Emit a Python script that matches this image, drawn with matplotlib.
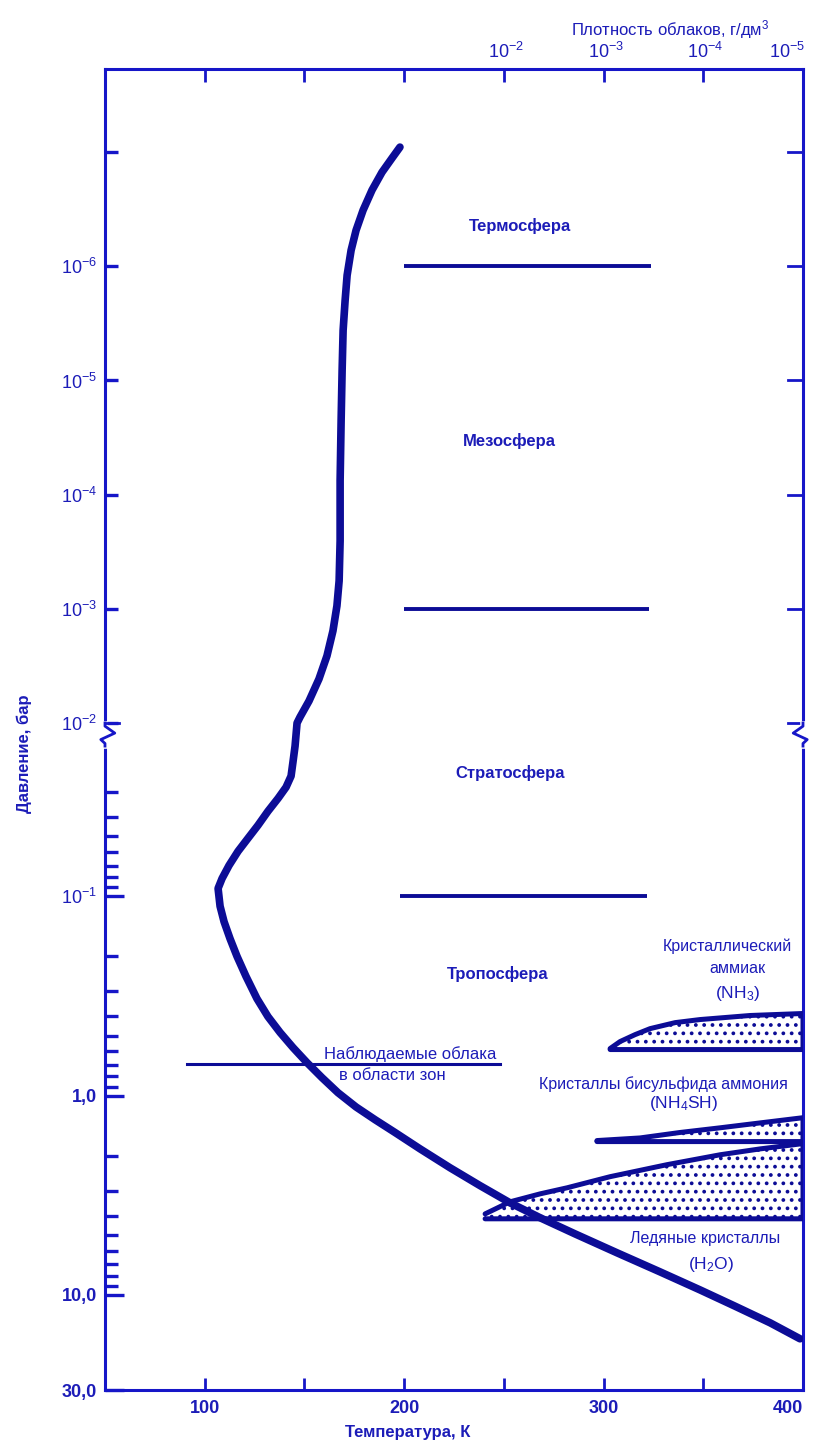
import numpy as np
import matplotlib
matplotlib.use("Agg")
import matplotlib.pyplot as plt
from matplotlib.ticker import FixedLocator, FixedFormatter

plt.rcParams['font.family'] = ['Liberation Sans', 'DejaVu Sans']
plt.rcParams['mathtext.default'] = 'regular'
plt.rcParams['hatch.linewidth'] = 1.5

# temperature profile, upper part (above the axis break) and lower part
temp_upper = [197.9, 193.9, 188.9, 183.9, 179.4, 175.9, 173.4, 171.4, 170.4, 169.4, 168.9,
              168.4, 167.9, 167.9, 167.4, 166.3, 164.3, 161.3, 157.3, 152.3, 147.8, 146.3]
pres_upper = [9.04e-8, 1.13e-7, 1.50e-7, 2.15e-7, 3.23e-7, 4.83e-7, 7.24e-7, 1.20e-6, 1.99e-6,
              3.64e-6, 8.17e-6, 2.24e-5, 7.54e-5, 2.53e-4, 5.68e-4, 9.41e-4, 1.56e-3, 2.58e-3,
              4.11e-3, 6.41e-3, 8.86e-3, 1.0e-2]
temp_lower = [145.3, 144.3, 143.3, 140.8, 136.8, 131.7, 126.7, 121.7, 116.7, 112.2, 108.7, 106.7,
              107.7, 109.7, 112.7, 116.2, 120.7, 126.2, 131.7, 137.8, 144.3, 151.3, 158.8, 166.8,
              175.9, 185.4, 195.4, 208.0, 223.0, 238.1, 253.1, 268.2, 285.7, 306.8, 328.3, 348.4,
              366.0, 383.5, 398.5]
pres_lower = [0.0176, 0.0210, 0.0249, 0.0283, 0.0322, 0.0374, 0.0440, 0.0511, 0.0594, 0.0699,
              0.0813, 0.0912, 0.112, 0.134, 0.163, 0.200, 0.252, 0.326, 0.401, 0.482, 0.574,
              0.683, 0.812, 0.966, 1.14, 1.32, 1.53, 1.85, 2.30, 2.83, 3.45, 4.10, 4.94, 6.15,
              7.66, 9.44, 11.4, 13.8, 16.6]

# layer boundaries (pressure, T range)
bound_pres = [1e-6, 1e-3, 1e-1]
bound_tmin = [200, 200, 198]
bound_tmax = [324, 323, 322]

# observed cloud level in zones
zone_pres = 0.69
zone_tmin = 91
zone_tmax = 248

# cloud decks: top edge (T, p) and flat bottom pressure
nh3_t = [303.3, 308.3, 315.8, 323.3, 335.9, 348.4, 373.5, 400]
nh3_top = [0.580, 0.535, 0.494, 0.461, 0.430, 0.415, 0.396, 0.387]
nh3_bot = 0.587
nh4sh_t = [296.7, 318.3, 338.4, 358.4, 378.5, 400]
nh4sh_top = [1.68, 1.63, 1.53, 1.45, 1.37, 1.29]
nh4sh_bot = 1.70
h2o_t = [240.6, 253.1, 268.2, 281.7, 303.3, 331.8, 358.4, 378.5, 400]
h2o_top = [3.92, 3.41, 3.11, 2.90, 2.55, 2.22, 1.98, 1.85, 1.74]
h2o_bot = 4.15

# tick values / labels
x_ticks = [100, 150, 200, 250, 300, 350, 400]
x_labels = ['100', '', '200', '', '300', '', '400']
dens_pos = [250, 300, 350, 400]
dens_labels = ['$10^{-2}$', '$10^{-3}$', '$10^{-4}$', '$10^{-5}$']
y_major = [0.1, 1, 10, 30]
y_major_labels = ['$10^{-1}$', '1,0', '10,0', '30,0']
y_upper = [1e-7, 1e-6, 1e-5, 1e-4, 1e-3, 1e-2]
y_upper_labels = ['', '$10^{-6}$', '$10^{-5}$', '$10^{-4}$', '$10^{-3}$', '$10^{-2}$']
y_minor = [0.03, 0.04, 0.05, 0.06, 0.07, 0.08, 0.09,
           0.2, 0.3, 0.4, 0.5, 0.6, 0.7, 0.8, 0.9,
           2, 3, 4, 5, 6, 7, 8, 9]

BLUE = '#1616c8'
NAVY = '#0c0c96'
TXT = '#1c1cb8'

# broken log axis: upper decades are compressed, gap between 1e-2 and 10^-1.754
U_HI = -2.0
U_LO = -1.754
POS_BRK = -1.870
K_UP = 0.573


def fwd(p):
    u = np.log10(np.clip(np.asarray(p, dtype=float), 1e-300, None))
    up = POS_BRK + (u - U_HI) * K_UP
    mid = POS_BRK + (u - U_HI) / (U_LO - U_HI) * (U_LO - POS_BRK)
    return np.where(u <= U_HI, up, np.where(u >= U_LO, u, mid))


def inv(d):
    d = np.asarray(d, dtype=float)
    up = U_HI + (d - POS_BRK) / K_UP
    mid = U_HI + (d - POS_BRK) / (U_LO - POS_BRK) * (U_LO - U_HI)
    u = np.where(d <= POS_BRK, up, np.where(d >= U_LO, d, mid))
    return 10.0 ** u


fig = plt.figure(figsize=(8.13, 14.41), dpi=100)
ax = fig.add_axes([105 / 813, 51 / 1441, 698 / 813, 1321 / 1441])
ax.set_yscale('function', functions=(fwd, inv))
ax.set_xlim(50, 400)
ax.set_ylim(30, 10 ** -7.728)

for s in ax.spines.values():
    s.set_color(BLUE)
    s.set_linewidth(2.2)

# temperature profile
ax.plot(temp_upper + temp_lower, pres_upper + pres_lower, color=NAVY, lw=5.5,
        solid_capstyle='round', solid_joinstyle='round', zorder=4)

# layer boundaries
for p, t0, t1 in zip(bound_pres, bound_tmin, bound_tmax):
    ax.plot([t0, t1], [p, p], color=NAVY, lw=2.8, solid_capstyle='butt')
ax.plot([zone_tmin, zone_tmax], [zone_pres, zone_pres], color=NAVY, lw=2.2)

# cloud decks
for tt, top, bot in [(nh3_t, nh3_top, nh3_bot), (nh4sh_t, nh4sh_top, nh4sh_bot), (h2o_t, h2o_top, h2o_bot)]:
    ax.fill_between(tt, top, [bot] * len(tt), facecolor='none', edgecolor=NAVY, hatch='..', lw=0, zorder=2)
    ax.plot(list(tt) + [tt[-1], tt[0]], list(top) + [bot, bot], color=NAVY, lw=3.6,
            solid_joinstyle='round', solid_capstyle='round', zorder=3)

# text labels
kw = dict(color=TXT, ha='center', va='center')
ax.text(258, 4.4e-7, 'Термосфера', fontsize=12, fontweight='bold', **kw)
ax.text(253, 3.36e-5, 'Мезосфера', fontsize=12, fontweight='bold', **kw)
ax.text(253, 0.0241, 'Стратосфера', fontsize=12, fontweight='bold', **kw)
ax.text(247, 0.244, 'Тропосфера', fontsize=12, fontweight='bold', **kw)
ax.text(203, 0.615, 'Наблюдаемые облака', fontsize=12, **kw)
ax.text(194, 0.794, 'в области зон', fontsize=12, **kw)
ax.text(362, 0.178, 'Кристаллический', fontsize=11.5, **kw)
ax.text(367, 0.230, 'аммиак', fontsize=11.5, **kw)
ax.text(367, 0.307, '(NH$_3$)', fontsize=12.5, **kw)
ax.text(330, 0.870, 'Кристаллы бисульфида аммония', fontsize=11.5, **kw)
ax.text(340, 1.10, '(NH$_4$SH)', fontsize=12.5, **kw)
ax.text(351, 5.23, 'Ледяные кристаллы', fontsize=11.5, **kw)
ax.text(354, 7.07, '(H$_2$O)', fontsize=12.5, **kw)

# x ticks (bottom and top)
ax.xaxis.set_major_locator(FixedLocator(x_ticks))
ax.xaxis.set_major_formatter(FixedFormatter(x_labels))
ax.tick_params(axis='x', which='major', direction='in', length=9, width=2, color=BLUE,
               labelcolor=TXT, labelsize=13, pad=7, top=True)
for lbl in ax.get_xticklabels():
    lbl.set_fontweight('bold')
ax.get_xticklabels()[-1].set_ha('right')

# density labels on the top axis
xtr = ax.get_xaxis_transform()
for t, lab in zip(dens_pos, dens_labels):
    ax.text(t + 1, 1.0 + 7 / 1321, lab, transform=xtr, color=TXT, fontsize=13,
            ha='right' if t == dens_pos[-1] else 'center', va='bottom')

# y ticks (left)
ax.yaxis.set_major_locator(FixedLocator(y_major))
ax.yaxis.set_major_formatter(FixedFormatter(y_major_labels))
ax.yaxis.set_minor_locator(FixedLocator(y_upper + y_minor))
ax.yaxis.set_minor_formatter(FixedFormatter(y_upper_labels + [''] * len(y_minor)))
ax.tick_params(axis='y', which='major', direction='in', length=14, width=2.4, color=BLUE,
               labelcolor=TXT, labelsize=13, pad=6, right=False)
ax.tick_params(axis='y', which='minor', direction='in', length=9, width=2.4, color=BLUE,
               labelcolor=TXT, labelsize=13, pad=6, right=False)
for lbl in ax.get_yticklabels()[1:]:
    lbl.set_fontweight('bold')

# right ticks at upper decades only
ytr = ax.get_yaxis_transform()
for p in y_upper:
    ax.plot([1, 1 - 0.021], [p, p], color=BLUE, lw=2, transform=ytr, clip_on=False)

# axis break marks
for x0, sgn in [(0, 1), (1, -1)]:
    ax.plot([x0, x0], [0.0102, 0.0174], color='white', lw=4, transform=ytr, clip_on=False, zorder=5)
    ax.plot([x0, x0, x0 + sgn * 0.014, x0 - sgn * 0.006, x0, x0],
            [0.0100, 0.0108, 0.0128, 0.0150, 0.0165, 0.0176],
            color=BLUE, lw=2, transform=ytr, clip_on=False, zorder=6)
ax.plot([0, 0.02], [0.01, 0.01], color=BLUE, lw=2, transform=ytr, clip_on=False, zorder=6)

fig.text(670 / 813, 1 - 30 / 1441, 'Плотность облаков, г/дм$^3$', color=TXT, fontsize=12,
         ha='center', va='center')
fig.text(408 / 813, 1 - 1433 / 1441, 'Температура, К', color=TXT, fontsize=12, fontweight='bold',
         ha='center', va='center')
fig.text(24 / 813, 1 - 754 / 1441, 'Давление, бар', color=TXT, fontsize=12, fontweight='bold',
         rotation=90, ha='center', va='center')

fig.savefig('out.png', dpi=100, facecolor='white')
